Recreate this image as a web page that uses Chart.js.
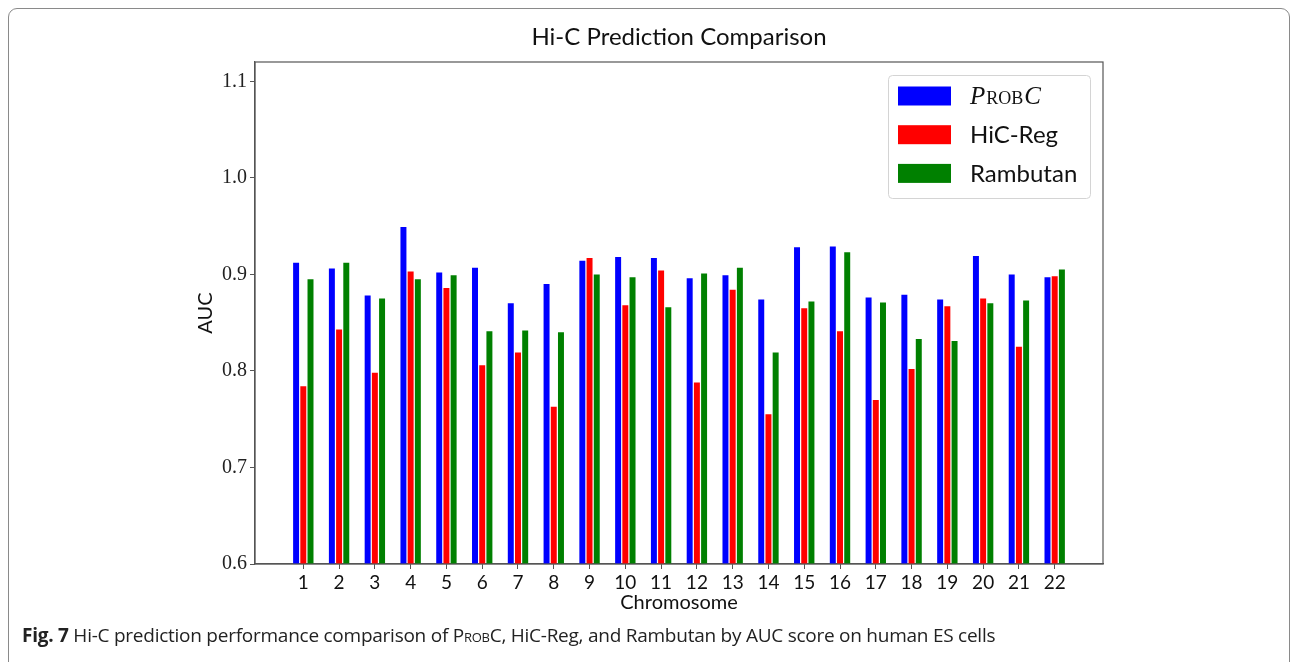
<!DOCTYPE html>
<html>
<head>
<meta charset="utf-8">
<script src="https://cdn.jsdelivr.net/npm/chart.js@4"></script>
<style>
  body { margin: 0; background: #fff; }
  #wrap { position: relative; width: 1294px; height: 662px; overflow: hidden; }
  #frame { position: absolute; left: 8px; top: 8px; width: 1280px; height: 670px;
           border: 1px solid #8a8a8a; border-radius: 9px; }
  canvas { position: absolute; left: 0; top: 0; }
  #caption { position: absolute; left: 22px; top: 622px; font-family: "Open Sans", sans-serif;
             font-size: 19px; color: #222; white-space: nowrap; letter-spacing: -0.25px; }
  #caption b { font-weight: 700; }
  .sc { font-variant: small-caps; }
</style>
</head>
<body>
<div id="wrap">
  <div id="frame"></div>
  <canvas id="chart" width="1294" height="662"></canvas>
  <div id="caption"><b>Fig. 7</b> Hi-C prediction performance comparison of P<span class="sc">rob</span>C, HiC-Reg, and Rambutan by AUC score on human ES cells</div>
</div>
<script>
const chromosomes = [1, 2, 3, 4, 5, 6, 7, 8, 9, 10, 11, 12, 13, 14, 15, 16, 17, 18, 19, 20, 21, 22];
const probc    = [0.912, 0.906, 0.878, 0.949, 0.902, 0.907, 0.870, 0.890, 0.914, 0.918, 0.917, 0.896, 0.899, 0.874, 0.928, 0.929, 0.876, 0.879, 0.874, 0.919, 0.900, 0.897];
const hicreg   = [0.784, 0.843, 0.798, 0.903, 0.886, 0.806, 0.819, 0.763, 0.917, 0.868, 0.904, 0.788, 0.884, 0.755, 0.865, 0.841, 0.770, 0.802, 0.867, 0.875, 0.825, 0.898];
const rambutan = [0.895, 0.912, 0.875, 0.895, 0.899, 0.841, 0.842, 0.840, 0.900, 0.897, 0.866, 0.901, 0.907, 0.819, 0.872, 0.923, 0.871, 0.833, 0.831, 0.870, 0.873, 0.905];
const yTicks = [0.6, 0.7, 0.8, 0.9, 1.0, 1.1];

const seriesNames = ["ProbC", "HiC-Reg", "Rambutan"];
const seriesColors = ["#0000ff", "#ff0000", "#008000"];

function points(vals) {
    return chromosomes.map((c, i) => ({ x: c, y: vals[i] }));
}

// box round the plot area, like matplotlib spines
const framePlugin = {
    id: "frame",
    afterDatasetsDraw(chart) {
        const a = chart.chartArea, ctx = chart.ctx;
        ctx.save();
        ctx.strokeStyle = "#555";
        ctx.lineWidth = 1.2;
        ctx.strokeRect(a.left, a.top, a.right - a.left, a.bottom - a.top);
        ctx.restore();
    }
};

// legend drawn inside the plot, upper right
const legendPlugin = {
    id: "innerLegend",
    afterDraw(chart) {
        const ctx = chart.ctx;
        const x0 = 888, y0 = 75, w = 202, h = 123;
        ctx.save();
        ctx.fillStyle = "rgba(255,255,255,0.85)";
        ctx.strokeStyle = "#d4d4d4";
        ctx.lineWidth = 1;
        ctx.beginPath();
        ctx.roundRect(x0 + 0.5, y0 + 0.5, w, h, 4);
        ctx.fill();
        ctx.stroke();
        chart.data.datasets.forEach((ds, i) => {
            const cy = 96 + i * 38.7;
            ctx.fillStyle = ds.backgroundColor;
            ctx.fillRect(898, cy - 9.5, 53, 19);
            ctx.fillStyle = "#111";
            ctx.textBaseline = "middle";
            ctx.textAlign = "left";
            if (i === 0) {
                // P and C in math italic, rob in small caps
                let tx = 970;
                ctx.font = "italic 25px 'Liberation Serif'";
                ctx.fillText("P", tx, cy + 1);
                tx += ctx.measureText("P").width + 1;
                ctx.font = "18px 'Liberation Serif'";
                ctx.fillText("ROB", tx, cy + 3);
                tx += ctx.measureText("ROB").width + 1;
                ctx.font = "italic 25px 'Liberation Serif'";
                ctx.fillText("C", tx, cy + 1);
            } else {
                ctx.font = "24px Lato";
                ctx.fillText(ds.label, 970, cy + 1);
            }
        });
        ctx.restore();
    }
};

new Chart(document.getElementById("chart").getContext("2d"), {
    type: "bar",
    data: {
        datasets: [probc, hicreg, rambutan].map((vals, i) => ({
            label: seriesNames[i],
            data: points(vals),
            backgroundColor: seriesColors[i],
            borderWidth: 0,
            categoryPercentage: 0.604,
            barPercentage: 0.83
        }))
    },
    options: {
        responsive: false,
        animation: false,
        layout: { padding: { left: 190, right: 191, top: 22.6, bottom: 43 } },
        plugins: {
            legend: { display: false },
            tooltip: { enabled: false },
            title: {
                display: true,
                fullSize: false,
                text: "Hi-C Prediction Comparison",
                color: "#111",
                font: { family: "Lato", size: 24, weight: "normal" },
                padding: { top: 0, bottom: 10.6 }
            }
        },
        scales: {
            x: {
                type: "linear",
                min: -0.35,
                max: 23.35,
                offset: false,
                afterBuildTicks: s => { s.ticks = chromosomes.map(v => ({ value: v })); },
                afterFit: s => { s.height = 55; },
                grid: { offset: false, drawOnChartArea: false, drawTicks: true, tickLength: 5, tickColor: "#555" },
                border: { color: "#555", width: 1.2 },
                ticks: { color: "#111", font: { family: "Lato", size: 19 }, padding: 2, maxRotation: 0, autoSkip: false },
                title: { display: true, text: "Chromosome", color: "#111", font: { family: "Lato", size: 20 } }
            },
            y: {
                min: 0.6,
                max: 1.12,
                afterBuildTicks: s => { s.ticks = yTicks.map(v => ({ value: v })); },
                afterFit: s => { s.width = 65; },
                grid: { drawOnChartArea: false, drawTicks: true, tickLength: 5, tickColor: "#555" },
                border: { color: "#555", width: 1.2 },
                ticks: { color: "#222", font: { family: "Liberation Serif", size: 20 }, padding: 3, callback: v => v.toFixed(1) },
                title: { display: true, text: "AUC", color: "#111", font: { family: "Lato", size: 20 } }
            }
        }
    },
    plugins: [framePlugin, legendPlugin]
});
</script>
</body>
</html>
